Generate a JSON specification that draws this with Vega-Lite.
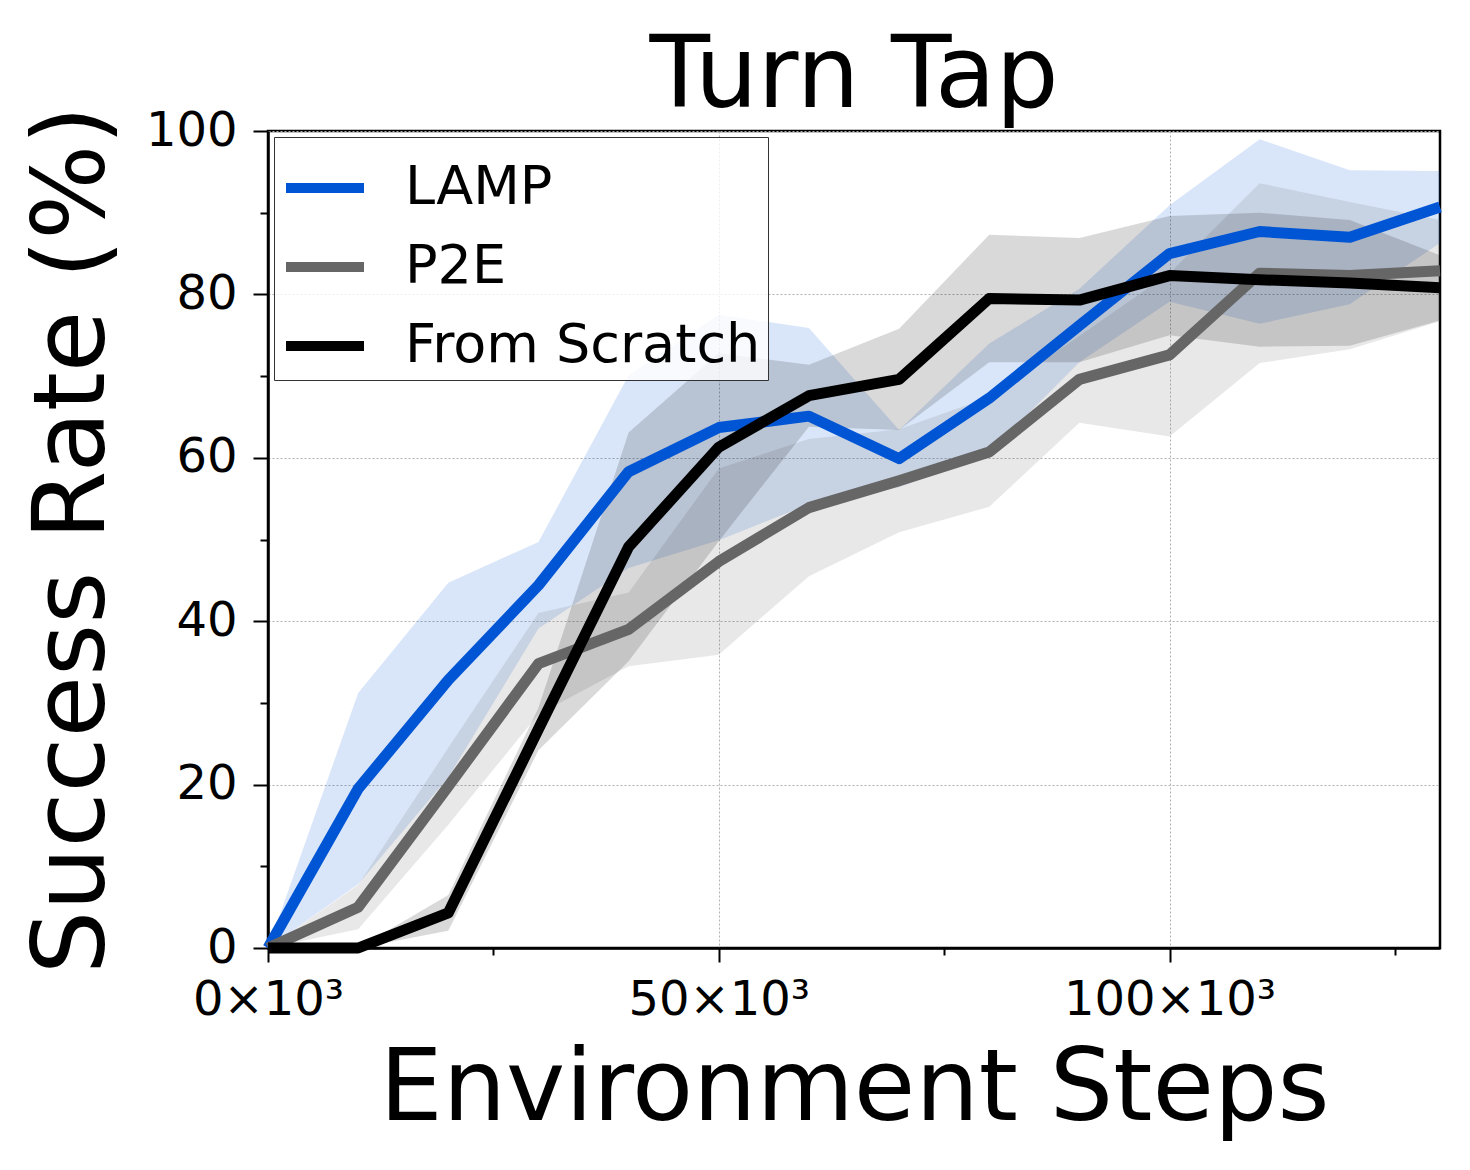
{
  "$schema": "https://vega.github.io/schema/vega-lite/v6.json",
  "width": 1172,
  "height": 817,
  "autosize": "none",
  "padding": {"left": 268, "top": 131, "right": 30, "bottom": 222},
  "background": "white",
  "title": {"text": "Turn Tap", "fontSize": 99, "font": "DejaVu Sans", "fontWeight": "normal", "color": "black", "offset": 24, "dy": 125, "baseline": "alphabetic", "anchor": "middle", "frame": "group"},
  "config": {"view": {"stroke": "black", "strokeWidth": 2.5}, "font": "DejaVu Sans"},
  "data": {"values": [
    {"step": 0, "method": "LAMP", "mean": 0, "lo": 0, "hi": 0},
    {"step": 10000, "method": "LAMP", "mean": 19.5, "lo": 7.8, "hi": 31.2},
    {"step": 20000, "method": "LAMP", "mean": 32.8, "lo": 20.9, "hi": 44.7},
    {"step": 30000, "method": "LAMP", "mean": 44.4, "lo": 39.1, "hi": 49.7},
    {"step": 40000, "method": "LAMP", "mean": 58.3, "lo": 46.5, "hi": 70.1},
    {"step": 50000, "method": "LAMP", "mean": 63.7, "lo": 49.9, "hi": 77.5},
    {"step": 60000, "method": "LAMP", "mean": 65.1, "lo": 54.3, "hi": 75.9},
    {"step": 70000, "method": "LAMP", "mean": 59.9, "lo": 56.4, "hi": 63.4},
    {"step": 80000, "method": "LAMP", "mean": 67.3, "lo": 60.6, "hi": 74.0},
    {"step": 90000, "method": "LAMP", "mean": 76.2, "lo": 71.7, "hi": 80.7},
    {"step": 100000, "method": "LAMP", "mean": 85.0, "lo": 79.1, "hi": 90.9},
    {"step": 110000, "method": "LAMP", "mean": 87.7, "lo": 76.4, "hi": 99.0},
    {"step": 120000, "method": "LAMP", "mean": 87.0, "lo": 78.8, "hi": 95.2},
    {"step": 130000, "method": "LAMP", "mean": 90.7, "lo": 86.3, "hi": 95.1},
    {"step": 0, "method": "P2E", "mean": 0, "lo": 0, "hi": 0},
    {"step": 10000, "method": "P2E", "mean": 5.0, "lo": 2.3, "hi": 7.7},
    {"step": 20000, "method": "P2E", "mean": 19.8, "lo": 15.1, "hi": 24.5},
    {"step": 30000, "method": "P2E", "mean": 34.8, "lo": 28.6, "hi": 41.0},
    {"step": 40000, "method": "P2E", "mean": 39.0, "lo": 34.5, "hi": 43.5},
    {"step": 50000, "method": "P2E", "mean": 47.3, "lo": 35.9, "hi": 58.7},
    {"step": 60000, "method": "P2E", "mean": 53.9, "lo": 45.5, "hi": 62.3},
    {"step": 70000, "method": "P2E", "mean": 57.2, "lo": 50.9, "hi": 63.5},
    {"step": 80000, "method": "P2E", "mean": 60.7, "lo": 54.0, "hi": 67.4},
    {"step": 90000, "method": "P2E", "mean": 69.6, "lo": 64.3, "hi": 74.9},
    {"step": 100000, "method": "P2E", "mean": 72.6, "lo": 62.6, "hi": 82.6},
    {"step": 110000, "method": "P2E", "mean": 82.6, "lo": 71.6, "hi": 93.6},
    {"step": 120000, "method": "P2E", "mean": 82.3, "lo": 73.3, "hi": 91.3},
    {"step": 130000, "method": "P2E", "mean": 82.9, "lo": 76.7, "hi": 89.1},
    {"step": 0, "method": "From Scratch", "mean": 0, "lo": 0, "hi": 0},
    {"step": 10000, "method": "From Scratch", "mean": 0, "lo": 0, "hi": 0},
    {"step": 20000, "method": "From Scratch", "mean": 4.3, "lo": 2.1, "hi": 6.5},
    {"step": 30000, "method": "From Scratch", "mean": 26.8, "lo": 24.2, "hi": 29.4},
    {"step": 40000, "method": "From Scratch", "mean": 49.1, "lo": 35.1, "hi": 63.1},
    {"step": 50000, "method": "From Scratch", "mean": 61.3, "lo": 49.8, "hi": 72.8},
    {"step": 60000, "method": "From Scratch", "mean": 67.6, "lo": 63.8, "hi": 71.4},
    {"step": 70000, "method": "From Scratch", "mean": 69.6, "lo": 63.4, "hi": 75.8},
    {"step": 80000, "method": "From Scratch", "mean": 79.5, "lo": 71.7, "hi": 87.3},
    {"step": 90000, "method": "From Scratch", "mean": 79.3, "lo": 71.7, "hi": 86.9},
    {"step": 100000, "method": "From Scratch", "mean": 82.3, "lo": 75.0, "hi": 89.6},
    {"step": 110000, "method": "From Scratch", "mean": 81.8, "lo": 73.6, "hi": 90.0},
    {"step": 120000, "method": "From Scratch", "mean": 81.4, "lo": 73.7, "hi": 89.1},
    {"step": 130000, "method": "From Scratch", "mean": 80.8, "lo": 76.8, "hi": 84.8}
  ]},
  "layer": [
    {
      "mark": {"type": "area", "fillOpacity": 0.15},
      "encoding": {
        "x": {"field": "step", "type": "quantitative", "scale": {"domain": [0, 130000], "nice": false},
          "axis": {"title": "Environment Steps", "values": [0, 25000, 50000, 75000, 100000, 125000], "labelExpr": "datum.value % 50000 === 0 ? format(datum.value/1000, 'd') + '×10³' : ''", "labelFontSize": 48, "labelFont": "DejaVu Sans", "labelColor": "black", "labelPadding": 14, "labelOverlap": false, "labelFlush": false, "labelLimit": 500, "tickSize": {"condition": {"test": "datum.value % 50000 === 0", "value": 14}, "value": 7}, "tickWidth": 2, "tickColor": "black", "domainColor": "black", "domainWidth": 2.5, "grid": true, "gridColor": "#b0b0b0", "gridDash": [2, 2], "gridWidth": 1, "gridOpacity": {"condition": {"test": "datum.value % 50000 === 0", "value": 1}, "value": 0}, "titleFontSize": 100, "titleFont": "DejaVu Sans", "titleFontWeight": "normal", "titleColor": "black", "titleX": 586, "titleY": 171, "titleBaseline": "alphabetic", "titleAlign": "center", "titleLimit": 2000}},
        "y": {"field": "lo", "type": "quantitative", "scale": {"domain": [0, 100], "nice": false},
          "axis": {"title": "Success Rate (%)", "values": [0, 10, 20, 30, 40, 50, 60, 70, 80, 90, 100], "labelExpr": "datum.value % 20 === 0 ? format(datum.value, 'd') : ''", "labelFontSize": 48, "labelFont": "DejaVu Sans", "labelColor": "black", "labelPadding": 16, "labelOverlap": false, "labelFlush": false, "tickSize": {"condition": {"test": "datum.value % 20 === 0", "value": 15}, "value": 8}, "tickWidth": 2, "tickColor": "black", "domainColor": "black", "domainWidth": 2.5, "grid": true, "gridColor": "#b0b0b0", "gridDash": [2, 2], "gridWidth": 1, "gridOpacity": {"condition": {"test": "datum.value % 20 === 0", "value": 1}, "value": 0}, "titleFontSize": 100, "titleFont": "DejaVu Sans", "titleFontWeight": "normal", "titleColor": "black", "titleX": -165, "titleY": 408.5, "titleAngle": 270, "titleBaseline": "alphabetic", "titleAlign": "center", "titleLimit": 2000}},
        "y2": {"field": "hi"},
        "fill": {"field": "method", "type": "nominal", "scale": {"domain": ["LAMP", "P2E", "From Scratch"], "range": ["#0055d4", "#666666", "#000000"]},
          "legend": {"title": null, "orient": "none", "legendX": 6, "legendY": 6, "symbolType": "stroke", "symbolStrokeWidth": 10, "symbolSize": 6084, "labelFontSize": 54, "labelFont": "DejaVu Sans", "labelColor": "black", "labelOffset": 36, "padding": 7, "rowPadding": 8, "fillColor": "rgba(255,255,255,0.8)", "strokeColor": "#333333", "cornerRadius": 0, "labelLimit": 1000}}
      }
    },
    {
      "transform": [{"filter": "datum.method === 'LAMP'"}],
      "mark": {"type": "line", "strokeWidth": 11, "strokeJoin": "round"},
      "encoding": {
        "x": {"field": "step", "type": "quantitative"},
        "y": {"field": "mean", "type": "quantitative"},
        "stroke": {"field": "method", "type": "nominal", "scale": {"domain": ["LAMP", "P2E", "From Scratch"], "range": ["#0055d4", "#666666", "#000000"]},
          "legend": {"title": null, "orient": "none", "legendX": 6, "legendY": 6, "symbolType": "stroke", "symbolStrokeWidth": 10, "symbolSize": 6084, "labelFontSize": 54, "labelFont": "DejaVu Sans", "labelColor": "black", "labelOffset": 36, "padding": 7, "rowPadding": 8, "fillColor": "rgba(255,255,255,0.8)", "strokeColor": "#333333", "cornerRadius": 0, "labelLimit": 1000}}
      }
    },
    {
      "transform": [{"filter": "datum.method === 'P2E'"}],
      "mark": {"type": "line", "strokeWidth": 11, "strokeJoin": "round"},
      "encoding": {
        "x": {"field": "step", "type": "quantitative"},
        "y": {"field": "mean", "type": "quantitative"},
        "stroke": {"field": "method", "type": "nominal"}
      }
    },
    {
      "transform": [{"filter": "datum.method === 'From Scratch'"}],
      "mark": {"type": "line", "strokeWidth": 11, "strokeJoin": "round"},
      "encoding": {
        "x": {"field": "step", "type": "quantitative"},
        "y": {"field": "mean", "type": "quantitative"},
        "stroke": {"field": "method", "type": "nominal"}
      }
    }
  ]
}
